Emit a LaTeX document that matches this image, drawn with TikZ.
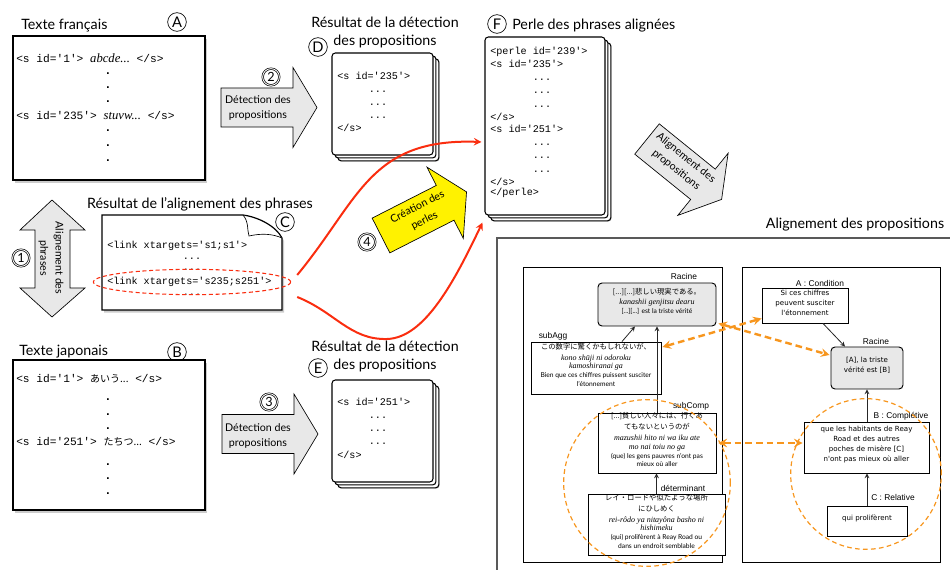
\documentclass[tikz,border=0pt]{standalone}
\usepackage{fontspec}
\setmainfont{Lato}
\setmonofont{Liberation Mono}
\newfontfamily\helv{Liberation Sans}
\newfontfamily\verd{DejaVu Sans}
\newfontfamily\cjk{Noto Sans CJK JP}
\newfontfamily\romaji{Liberation Serif}
\usepackage{tikz}
\usetikzlibrary{shapes.geometric, arrows, fit, shadows}

\definecolor{redline}{RGB}{250,45,15}
\definecolor{orangeline}{RGB}{247,150,30}
\definecolor{lightgrey}{RGB}{232,232,232}

\newcommand{\jpline}[1]{{\cjk\fontsize{5.5}{6.6}\selectfont #1}}
\newcommand{\romline}[1]{{\romaji\itshape\fontsize{6}{7}\selectfont #1}}

\tikzstyle{headline} = [font=\fontsize{10.7}{13.5}\selectfont, inner sep=0pt, align=center]
\tikzstyle{circlbl} = [circle, draw, line width=0.5pt, inner sep=0pt, minimum size=14pt, font=\fontsize{11}{11}\selectfont]
\tikzstyle{circnum} = [circlbl, double, double distance=0.7pt, minimum size=12.5pt, font=\fontsize{9.5}{9.5}\selectfont]
\tikzstyle{textbox} = [rectangle, draw, line width=0.9pt, fill=white, inner sep=0pt, drop shadow={opacity=0.4, shadow xshift=1.5pt, shadow yshift=-2pt}]
\tikzstyle{stackbox} = [rectangle, draw, line width=0.8pt, fill=white, rounded corners=2.5pt, inner sep=0pt, drop shadow={opacity=0.35, shadow xshift=5pt, shadow yshift=-5pt}, double copy shadow={shadow xshift=2.2pt, shadow yshift=-2.2pt}]
\tikzstyle{docshape} = [draw, line width=0.9pt, fill=white, drop shadow={opacity=0.4, shadow xshift=1.5pt, shadow yshift=-2pt}]
\tikzstyle{bigcodeline} = [font=\ttfamily\fontsize{8.4}{10}\selectfont, inner sep=0pt, anchor=west]
\tikzstyle{codeline} = [font=\ttfamily\fontsize{7.6}{9}\selectfont, inner sep=0pt, anchor=west]
\tikzstyle{dotnode} = [font=\ttfamily\bfseries\fontsize{9}{10}\selectfont, inner sep=0pt]
\tikzstyle{arrowbody} = [draw, line width=0.5pt]
\tikzstyle{arrowtext} = [font=\fontsize{8}{11.5}\selectfont, align=center, inner sep=0pt]
\tikzstyle{redarrow} = [draw=redline, line width=1.5pt, ->, >=stealth]
\tikzstyle{alignarrow} = [draw=orangeline, line width=1.8pt, dash pattern=on 5pt off 3pt, <->, >=stealth]
\tikzstyle{alignzone} = [circle, draw=orangeline, line width=0.9pt, dash pattern=on 3.5pt off 2.5pt, inner sep=0pt]
\tikzstyle{panelframe} = [rectangle, draw=black!65, line width=1.2pt, inner sep=0pt]
\tikzstyle{treeframe} = [rectangle, draw, line width=0.7pt, inner sep=0pt]
\tikzstyle{treebox} = [rectangle, draw, line width=0.7pt, fill=white, inner sep=0pt, align=center, font=\fontsize{5}{6.6}\selectfont]
\tikzstyle{rootbox} = [treebox, fill=lightgrey, rounded corners=3pt]
\tikzstyle{frbox} = [treebox, font=\verd\fontsize{5.3}{7.6}\selectfont]
\tikzstyle{frroot} = [frbox, fill=lightgrey, rounded corners=3pt]
\tikzstyle{treelabel} = [font=\helv\fontsize{6.3}{7}\selectfont, inner sep=0pt]
\tikzstyle{treearrow} = [draw=black!85, line width=0.6pt, ->, >=stealth]

\tikzset{pics/blockarrow/.style={code={
  \draw[arrowbody, fill=#1] (0,-19.5) -- (72,-19.5) -- (72,-40) -- (96,0) -- (72,40) -- (72,19.5) -- (0,19.5) -- cycle;
}}}

\begin{document}
\begin{tikzpicture}[x=0.75pt, y=-0.75pt]
    \useasboundingbox (0,0) rectangle (950,570);

    % Texte francais (A)
    \node[headline, anchor=west] (frtitle) at (21,26) {Texte français};
    \node[circlbl] (markA) at (177,22) {A};
    \node[textbox, fit={(13,36) (205,180)}] (frtext) {};
    \node[bigcodeline] (frline1) at (16,58) {<s id='1'> {\romaji\itshape\fontsize{9.5}{10}\selectfont abcde...} </s>};
    \node[bigcodeline] (frline235) at (16,116) {<s id='235'> {\romaji\itshape\fontsize{9.5}{10}\selectfont stuvw...} </s>};
    \foreach \y [count=\i] in {74,88,102,131,146,161}
        \node[dotnode] (frdot\i) at (108,\y) {.};

    % Texte japonais (B)
    \node[headline, anchor=west] (jptitle) at (19,352) {Texte japonais};
    \node[circlbl] (markB) at (177,352) {B};
    \node[textbox, fit={(13,360) (205,510)}] (jptext) {};
    \node[bigcodeline] (jpline1) at (16,379) {<s id='1'> {\cjk\fontsize{7.5}{9}\selectfont あいう...} </s>};
    \node[bigcodeline] (jpline251) at (16,442) {<s id='251'> {\cjk\fontsize{7.5}{9}\selectfont たちつ...} </s>};
    \foreach \y [count=\i] in {400,415,429,465,479,494}
        \node[dotnode] (jpdot\i) at (108,\y) {.};

    % Alignement des phrases (1)
    \draw[arrowbody, fill=lightgrey] (52,200) -- (85,230) -- (70,230) -- (70,288) -- (85,288) -- (52,317) -- (20,288) -- (35,288) -- (35,230) -- (20,230) -- cycle;
    \node[arrowtext, rotate=-90] (alignsent) at (51,258) {Alignement des\\phrases};
    \node[circnum] (num1) at (21,258) {1};

    % Resultat de l'alignement (C)
    \node[headline] (aligntitle) at (200,204) {Résultat de l'alignement des phrases};
    \draw[docshape] (102,215) -- (243,215) .. controls (258,217) and (276,226) .. (282,238) -- (282,310) -- (102,310) -- cycle;
    \draw[arrowbody, fill=white] (243,215) .. controls (249,222) and (247,230) .. (249,236) .. controls (262,233) and (273,234) .. (282,238);
    \node[circlbl] (markC) at (285,222) {C};
    \node[codeline] (link1) at (107,246) {<link xtargets='s1;s1'>};
    \foreach \y [count=\i] in {259,270}
        \node[codeline, anchor=center] (linkdots\i) at (192,\y) {...};
    \node[codeline] (link2) at (107,282) {<link xtargets='s235;s251'>};
    \node[codeline, anchor=center] (linkdots3) at (192,295) {...};
    \node[ellipse, draw=redline, line width=0.8pt, dash pattern=on 3pt off 2pt, minimum width=148pt, minimum height=19pt, inner sep=0pt] (linkmark) at (192,282) {};

    % Detection des propositions (2) (3)
    \pic at (221,107.5) {blockarrow=lightgrey};
    \node[arrowtext] (detect2) at (258,108) {Détection des\\propositions};
    \node[circnum] (num2) at (271,77) {2};
    \pic at (222,434) {blockarrow=lightgrey};
    \node[arrowtext] (detect3) at (258,436) {Détection des\\propositions};
    \node[circnum] (num3) at (269,402) {3};

    % Resultat de la detection (D)
    \node[headline] (dtitle) at (385,32) {Résultat de la détection\\des propositions};
    \node[circlbl] (markD) at (318,47) {D};
    \node[stackbox, fit={(332,53) (433,155)}] (propfr) {};
    \node[codeline] (propfr1) at (337,76) {<s id='235'>};
    \foreach \y [count=\i] in {92,105,118}
        \node[codeline, anchor=center] (propfrdots\i) at (378,\y) {...};
    \node[codeline] (propfr2) at (337,128) {</s>};

    % Resultat de la detection (E)
    \node[headline] (etitle) at (385,356) {Résultat de la détection\\des propositions};
    \node[circlbl] (markE) at (318,368) {E};
    \node[stackbox, fit={(332,380) (433,482)}] (propjp) {};
    \node[codeline] (propjp1) at (337,402) {<s id='251'>};
    \foreach \y [count=\i] in {418,431,444}
        \node[codeline, anchor=center] (propjpdots\i) at (378,\y) {...};
    \node[codeline] (propjp2) at (337,455) {</s>};

    % Perle des phrases alignees (F)
    \node[circlbl] (markF) at (497,24) {F};
    \node[headline, anchor=west] (ftitle) at (512,26) {Perle des phrases alignées};
    \node[stackbox, fit={(485,37) (605,215)}] (pearl) {};
    \node[codeline] (pearl1) at (490,52) {<perle id='239'>};
    \node[codeline] (pearl2) at (490,64) {<s id='235'>};
    \node[codeline] (pearl3) at (490,117) {</s>};
    \node[codeline] (pearl4) at (490,129) {<s id='251'>};
    \node[codeline] (pearl5) at (490,182) {</s>};
    \node[codeline] (pearl6) at (490,193) {</perle>};
    \foreach \y [count=\i] in {80,93,107,145,158,172}
        \node[codeline, anchor=center] (pearldots\i) at (542,\y) {...};

    % Creation des perles (4)
    \pic[rotate=27] at (381,235.5) {blockarrow=yellow};
    \node[arrowtext, rotate=27] (createpearl) at (421,214) {Création des\\perles};
    \node[circnum] (num4) at (367,242) {4};
    \draw[redarrow] ([shift={(6,-7)}]linkmark.east) .. controls +(62,-75) and +(-112,-4) .. ([shift={(-3,16)}]pearl.west);
    \draw[redarrow] ([shift={(6,15)}]linkmark.east) .. controls (335,312) and (350,340) .. (387,339) .. controls (425,338) and (455,280) .. ([shift={(-2,7)}]pearl.south west);

    % Alignement des propositions
    \pic[rotate=-39] at (647,139) {blockarrow=lightgrey};
    \node[arrowtext, rotate=-39] (alignprop) at (681,164) {Alignement des\\propositions};
    \node[headline] (ptitle) at (855,225) {Alignement des propositions};
    \node[panelframe, fit={(497,238) (951,572)}] (panel) {};
    \node[treeframe, fit={(523,267) (722,562)}] (lefttree) {};
    \node[treeframe, fit={(742,267) (940,562)}] (righttree) {};

    % Japanese tree
    \node[rootbox, fit={(598,283) (716,326)}] (rootL) {\jpline{[...][...]悲しい現実である。}\\[1pt]\romline{kanashii genjitsu dearu}\\{}[...][...] est la triste vérité};
    \node[treebox, fit={(531,342) (661,394)}] (subagg) {\jpline{この数字に驚くかもしれないが、}\\[1.5pt]\romline{kono shūji ni odoroku}\\\romline{kamoshiranai ga}\\Bien que ces chiffres puissent susciter\\l'étonnement};
    \node[treebox, fit={(598,413) (716,473)}] (subcomp) {\jpline{[...]貧しい人々には、行くあ}\\[1.5pt]\jpline{てもないというのが}\\[1.5pt]\romline{mazushii hito ni wa iku ate}\\\romline{mo nai toiu no ga}\\(que) les gens pauvres n'ont pas\\mieux où aller};
    \node[treebox, fit={(588,494) (725,555)}] (determ) {\jpline{レイ・ロードや似たような場所}\\[1.5pt]\jpline{にひしめく}\\[1.5pt]\romline{rei-rôdo ya nitayôna basho ni}\\\romline{hishimeku}\\(qui) prolifèrent à Reay Road ou\\dans un endroit semblable};
    \node[treelabel] (rootLlbl) at (684,276) {Racine};
    \node[treelabel] (subagglbl) at (553,336) {subAgg};
    \node[treelabel] (subcomplbl) at (691,406) {subComp};
    \node[treelabel] (determlbl) at (683,488) {déterminant};
    \draw[treearrow] ([shift={(26,0)}]subagg.north) -- ([shift={(-22,0)}]rootL.south);
    \draw[treearrow] (subcomp.north -| rootL.south) -- (rootL.south);
    \draw[treearrow] (determ.north) -- (determ.north |- subcomp.south);

    % French tree
    \node[frbox, fit={(762,288) (848,323)}] (cond) {Si ces chiffres\\peuvent susciter\\l'étonnement};
    \node[frroot, fit={(831,347) (903,389)}] (rootR) {[A], la triste\\vérité est [B]};
    \node[frbox, fit={(804,422) (929,473)}] (compl) {que les habitants de Reay\\Road et des autres\\poches de misère [C]\\n'ont pas mieux où aller};
    \node[frbox, fit={(827,506) (907,536)}] (relat) {qui prolifèrent};
    \node[treelabel] (condlbl) at (820,283) {A : Condition};
    \node[treelabel] (rootRlbl) at (876,341) {Racine};
    \node[treelabel] (compllbl) at (901,416) {B : Complétive};
    \node[treelabel] (relatlbl) at (893,497) {C : Relative};
    \draw[treearrow] ([shift={(18,0)}]cond.south) -- ([shift={(-22,0)}]rootR.north);
    \draw[treearrow] (compl.north -| rootR.south) -- (rootR.south);
    \draw[treearrow] (relat.north) -- (relat.north |- compl.south);

    % Alignment links
    \node[alignzone, minimum size=125pt] (zoneL) at (647,483) {};
    \node[alignzone, minimum size=113pt] (zoneR) at (866,474) {};
    \draw[alignarrow] ([shift={(1,-21)}]subagg.east) -- ([shift={(0,13)}]cond.west);
    \draw[alignarrow] ([shift={(2,-3)}]rootL.south east) -- ([shift={(-1,-13)}]rootR.west);
    \draw[alignarrow] ([shift={(2,0)}]subcomp.east) -- ([shift={(-1,-4.5)}]compl.west);

\end{tikzpicture}
\end{document}
